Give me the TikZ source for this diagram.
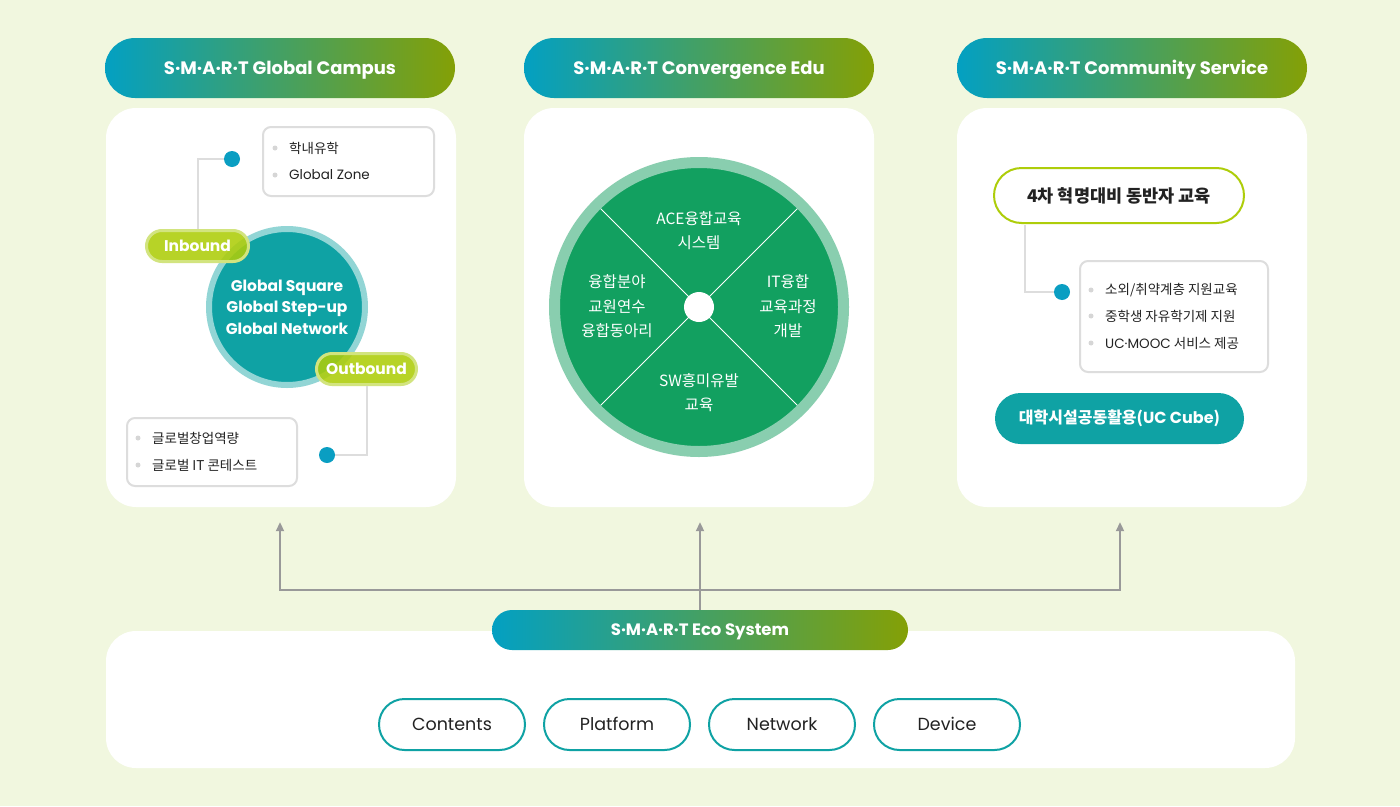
\documentclass[tikz,border=0pt]{standalone}
\usepackage{fontspec}
\setmainfont{Poppins}
\newfontfamily\krfont{Noto Sans CJK KR}
\usetikzlibrary{positioning,arrows.meta,calc}

\definecolor{bgcol}{HTML}{F1F7DF}
\definecolor{gradL}{HTML}{03A0C2}
\definecolor{gradR}{HTML}{84A006}
\definecolor{ucteal}{HTML}{0FA2A4}
\definecolor{tealring}{HTML}{92D5D5}
\definecolor{lime}{HTML}{AECD0A}
\definecolor{limering}{HTML}{D2E47F}
\definecolor{dotblue}{HTML}{0A9EC2}
\definecolor{wheelgreen}{HTML}{12A060}
\definecolor{wheelring}{HTML}{89CEAF}
\definecolor{linegray}{HTML}{DDDDDD}
\definecolor{bulletgray}{HTML}{D6D6D6}
\definecolor{arrowgray}{HTML}{999999}
\definecolor{txt}{HTML}{222222}

\tikzset{
  titlepill/.style={rounded corners=30pt, minimum width=350pt, minimum height=60pt,
    left color=gradL, right color=gradR, text=white, text height=12.5pt, text depth=0pt,
    font=\fontsize{18}{21}\selectfont\bfseries},
  panel/.style={fill=white, rounded corners=30pt, minimum width=350pt, minimum height=399pt},
  listbox/.style={draw=linegray, line width=2pt, fill=white, rounded corners=8pt},
  bullet/.style={circle, fill=bulletgray, inner sep=0pt, minimum size=5pt},
  item/.style={anchor=west, inner sep=0pt, text=txt, font=\fontsize{13.5}{16}\selectfont},
  dot/.style={circle, fill=dotblue, inner sep=0pt, minimum size=16pt},
  leader/.style={draw=linegray, line width=2pt},
  limepill/.style={rounded corners=15.5pt, fill=lime, fill opacity=0.88, text opacity=1,
    draw=limering, line width=3pt, minimum height=31pt, text=white,
    text height=11pt, text depth=0pt, font=\fontsize{15.5}{18}\selectfont\bfseries},
  wheeltext/.style={align=center, text=white, font=\krfont\fontsize{15.5}{24.5}\selectfont},
  arr/.style={draw=arrowgray, line width=2pt, -{Triangle[length=9pt,width=8pt]}},
  ecobtn/.style={draw=ucteal, line width=2pt, fill=white, rounded corners=25.5pt,
    minimum width=146pt, minimum height=51pt, text=txt, text height=12.5pt, text depth=0pt,
    font=\fontsize{17.5}{20}\selectfont}
}

\begin{document}
\begin{tikzpicture}[x=1pt,y=-1pt]
  \fill[bgcol] (0,0) rectangle (1400,806);
  \useasboundingbox (0,0) rectangle (1400,806);

  % headers and panels
  \node[titlepill] (campus) at (280,68) {S·M·A·R·T Global Campus};
  \node[titlepill] (converge) at (699,68) {S·M·A·R·T Convergence Edu};
  \node[titlepill] (community) at (1132,68) {S·M·A·R·T Community Service};
  \node[panel] (campuspanel) at (281,307.5) {};
  \node[panel] (convergepanel) at (699,307.5) {};
  \node[panel] (communitypanel) at (1132,307.5) {};

  % global campus
  \node[listbox, minimum width=171pt, minimum height=69pt] (inbox) at (348.5,161.5) {};
  \foreach \y/\t in {148/{\krfont 학내유학}, 175/Global Zone} {
    \node[bullet] at (275,\y) {};
    \node[item] at (289,\y) {\t};
  }
  \node[dot] (indot) at (232,159) {};
  \node[circle, fill=ucteal, draw=tealring, line width=6pt, minimum size=156pt,
        align=center, text=white, font=\fontsize{15.5}{21.5}\selectfont\bfseries]
        (hub) at (287,307) {Global Square\\Global Step-up\\Global Network};
  \node[limepill, minimum width=102pt] (inbound) at (197.5,246) {Inbound};
  \node[limepill, minimum width=100pt] (outbound) at (366.5,369) {Outbound};
  \draw[leader] (indot) -| (inbound);
  \node[listbox, minimum width=170pt, minimum height=68pt] (outbox) at (212,452) {};
  \foreach \y/\t in {438/글로벌창업역량, 465/글로벌 IT 콘테스트} {
    \node[bullet] at (138,\y) {};
    \node[item, font=\krfont\fontsize{13.5}{16}\selectfont] at (152,\y) {\t};
  }
  \node[dot] (outdot) at (327,455) {};
  \draw[leader] (outbound) |- (outdot);

  % convergence wheel
  \node[circle, fill=wheelgreen, draw=wheelring, line width=11pt, minimum size=289pt] (wheel) at (699,307) {};
  \foreach \a in {45,135,225,315}
    \draw[white, line width=1pt] (wheel.center) -- ++(\a:139);
  \node[circle, fill=white, inner sep=0pt, minimum size=30pt] (hole) at (wheel.center) {};
  \node[wheeltext] (wtop) at (699,230.5) {ACE융합교육\\시스템};
  \node[wheeltext] (wright) at (788,306.5) {IT융합\\교육과정\\개발};
  \node[wheeltext] (wbottom) at (699,392.5) {SW흥미유발\\교육};
  \node[wheeltext] (wleft) at (617,306.5) {융합분야\\교원연수\\융합동아리};

  % community service
  \node[draw=lime, line width=2pt, fill=white, rounded corners=27.5pt, minimum width=250pt,
        minimum height=55pt, text=txt, font=\krfont\fontsize{17.5}{20}\selectfont\bfseries]
        (fourth) at (1119,195.5) {4차 혁명대비 동반자 교육};
  \node[listbox, minimum width=188pt, minimum height=111pt] (combox) at (1174,316.5) {};
  \foreach \y/\t in {290/{소외/취약계층 지원교육}, 316/{중학생 자유학기제 지원}, 343/{{\rmfamily UC·MOOC} 서비스 제공}} {
    \node[bullet] at (1091,\y) {};
    \node[item, font=\krfont\fontsize{13.5}{16}\selectfont] at (1105,\y) {\t};
  }
  \node[dot] (comdot) at (1062,292) {};
  \draw[leader] ($(fourth.south)+(-94,1)$) |- (comdot);
  \node[fill=ucteal, rounded corners=25.5pt, minimum width=249pt, minimum height=51pt,
        text=white, font=\krfont\fontsize{16}{19}\selectfont\bfseries]
        (cube) at (1119.5,418.5) {대학시설공동활용({\rmfamily UC Cube})};

  % eco system
  \node[fill=white, rounded corners=30pt, minimum width=1189pt, minimum height=137pt] (ecopanel) at (700.5,699.5) {};
  \node[titlepill, minimum width=416pt, minimum height=40pt, rounded corners=20pt,
        text height=11.5pt, font=\fontsize{16.5}{19}\selectfont\bfseries] (eco) at (700,630) {S·M·A·R·T Eco System};
  \coordinate (split) at (700,590);
  \coordinate (tipA) at ($(campuspanel.south)+(-1,15)$);
  \coordinate (tipB) at ($(convergepanel.south)+(1,15)$);
  \coordinate (tipC) at ($(communitypanel.south)+(-12,15)$);
  \draw[arr] (split) -| (tipA);
  \draw[arr] (split) -| (tipC);
  \draw[arr] (eco) -- (tipB);
  \foreach \t/\x in {Contents/452, Platform/617, Network/782, Device/947}
    \node[ecobtn] (btn\x) at (\x,724.5) {\t};
\end{tikzpicture}
\end{document}
